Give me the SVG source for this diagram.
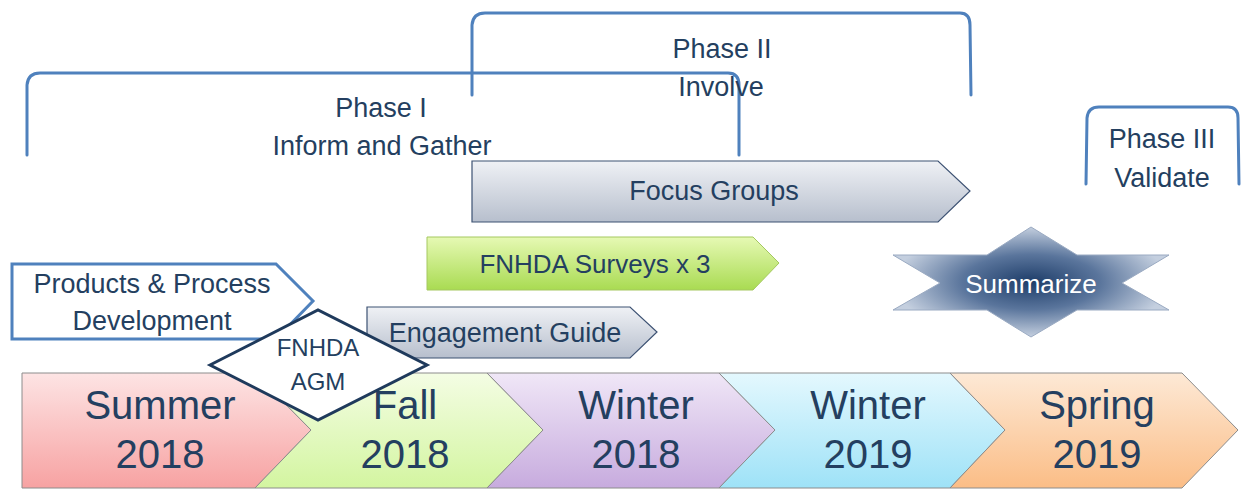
<svg xmlns="http://www.w3.org/2000/svg" width="1243" height="490" viewBox="0 0 1243 490">
<style>
.t{font-family:"Liberation Sans",Arial,sans-serif;fill:#243f60;text-anchor:middle}
.m{font-size:27px}
.s{font-size:40px}
.br{fill:none;stroke:#4f81bd;stroke-width:3;stroke-linecap:round}
.season{stroke:#8c8c8c;stroke-width:1}
</style>
<defs>
<linearGradient id="gSum" x1="0" y1="0" x2="0" y2="1"><stop offset="0" stop-color="#fde4e4"/><stop offset="1" stop-color="#f7a2a2"/></linearGradient>
<linearGradient id="gFall" x1="0" y1="0" x2="0" y2="1"><stop offset="0" stop-color="#f4fde4"/><stop offset="1" stop-color="#d3f5a0"/></linearGradient>
<linearGradient id="gW18" x1="0" y1="0" x2="0" y2="1"><stop offset="0" stop-color="#f0e7f7"/><stop offset="1" stop-color="#c7abde"/></linearGradient>
<linearGradient id="gW19" x1="0" y1="0" x2="0" y2="1"><stop offset="0" stop-color="#e4f8fe"/><stop offset="1" stop-color="#9ee2f7"/></linearGradient>
<linearGradient id="gSpr" x1="0" y1="0" x2="0" y2="1"><stop offset="0" stop-color="#fde9d6"/><stop offset="1" stop-color="#fbbd86"/></linearGradient>
<linearGradient id="gGray" x1="0" y1="0" x2="0" y2="1"><stop offset="0" stop-color="#eff1f5"/><stop offset="1" stop-color="#b7bfcd"/></linearGradient>
<linearGradient id="gGreen" x1="0" y1="0" x2="0" y2="1"><stop offset="0" stop-color="#e6f9b4"/><stop offset="1" stop-color="#a9db52"/></linearGradient>
<radialGradient id="gStar" cx="0.5" cy="0.5" r="0.5"><stop offset="0" stop-color="#1e3d69"/><stop offset="0.5" stop-color="#5a759c"/><stop offset="1" stop-color="#c4cfdf"/></radialGradient>
</defs>

<g id="phase-brackets">
<path class="br" d="M27,155 L27,85 Q28,73 40,73 L728,73 Q739,73 739,85 L739,155"/>
<path class="br" d="M472,95 L472,25 Q473,13 485,13 L960,13 Q970,13 970,25 L971,95"/>
<path class="br" d="M1086,184 L1087,118 Q1088,107 1099,107 L1228,107 Q1238,107 1238,118 L1239,184"/>
</g>

<g id="phase1"><text class="t m" x="381" y="117">Phase I</text><text class="t m" x="382" y="155">Inform and Gather</text></g>
<g id="phase2"><text class="t m" x="722" y="58">Phase II</text><text class="t m" x="721" y="96">Involve</text></g>
<g id="phase3"><text class="t m" x="1162" y="148">Phase III</text><text class="t m" x="1162" y="187">Validate</text></g>

<g id="focus-groups">
<path d="M472,161 L938,161 L970,191 L938,222 L472,222 Z" fill="url(#gGray)" stroke="#3d5273" stroke-width="1.2"/>
<text class="t m" x="714" y="200">Focus Groups</text>
</g>

<g id="surveys">
<path d="M427,237 L753,237 L779,263 L753,290 L427,290 Z" fill="url(#gGreen)" stroke="#a5c860" stroke-width="1"/>
<text class="t" style="font-size:26px" x="595" y="273">FNHDA Surveys x 3</text>
</g>

<g id="engagement-guide">
<path d="M367,307 L630,307 L657,332 L630,358 L367,358 Z" fill="url(#gGray)" stroke="#3d5273" stroke-width="1.2"/>
<text class="t m" x="505" y="342">Engagement Guide</text>
</g>

<g id="summer-2018">
<path class="season" d="M22,373 L255,373 L311,430 L255,488 L22,488 Z" fill="url(#gSum)"/>
<text class="t s" x="160" y="419">Summer</text><text class="t s" x="160" y="468">2018</text>
</g>
<g id="fall-2018">
<path class="season" d="M255,373 L487,373 L543,430 L487,488 L255,488 L311,430 Z" fill="url(#gFall)"/>
<text class="t s" x="405" y="419">Fall</text><text class="t s" x="405" y="468">2018</text>
</g>
<g id="winter-2018">
<path class="season" d="M487,373 L719,373 L775,430 L719,488 L487,488 L543,430 Z" fill="url(#gW18)"/>
<text class="t s" x="636" y="419">Winter</text><text class="t s" x="636" y="468">2018</text>
</g>
<g id="winter-2019">
<path class="season" d="M719,373 L950,373 L1005,430 L950,488 L719,488 L775,430 Z" fill="url(#gW19)"/>
<text class="t s" x="868" y="419">Winter</text><text class="t s" x="868" y="468">2019</text>
</g>
<g id="spring-2019">
<path class="season" d="M950,373 L1182,373 L1238,430 L1182,488 L950,488 L1005,430 Z" fill="url(#gSpr)"/>
<text class="t s" x="1097" y="419">Spring</text><text class="t s" x="1097" y="468">2019</text>
</g>

<g id="products-process">
<path d="M12,264 L276,264 L313,301 L276,339 L12,339 Z" fill="#ffffff" stroke="#4f81bd" stroke-width="3"/>
<text class="t m" x="152" y="293">Products &amp; Process</text>
<text class="t m" x="152" y="330">Development</text>
</g>

<g id="fnhda-agm">
<path d="M210,365 L318,310 L427,365 L318,420 Z" fill="#ffffff" stroke="#1f3a5c" stroke-width="3" stroke-linejoin="miter"/>
<text class="t" style="font-size:24px" x="318" y="356">FNHDA</text>
<text class="t" style="font-size:24px" x="318" y="390">AGM</text>
</g>

<g id="summarize">
<path d="M1031,227 L1077,255 L1169,255 L1122,283 L1169,310 L1077,310 L1031,337 L987,310 L893,310 L940,283 L893,255 L987,255 Z" fill="url(#gStar)" stroke="#9aaac2" stroke-width="1"/>
<text class="t" style="font-size:26px;fill:#ffffff" x="1031" y="293">Summarize</text>
</g>
</svg>
